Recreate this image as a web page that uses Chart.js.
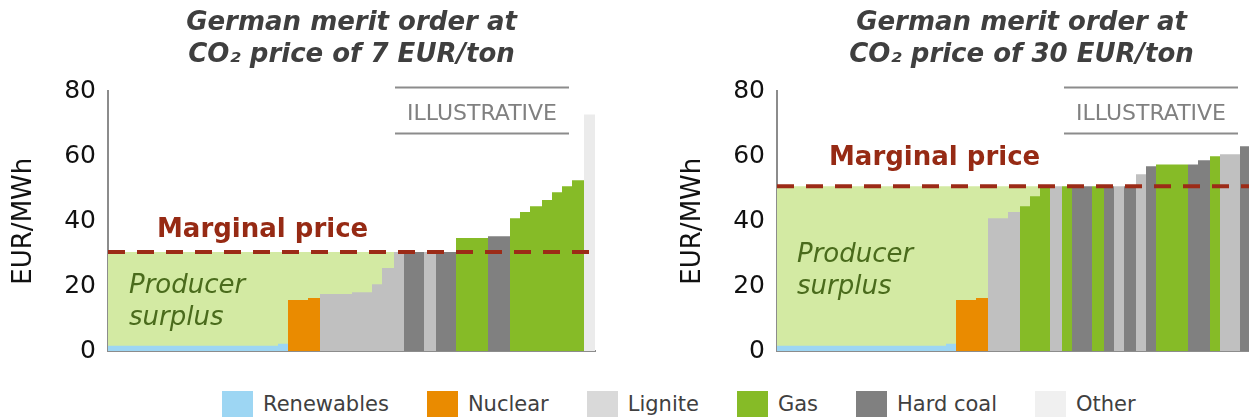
<!DOCTYPE html>
<html><head><meta charset="utf-8">
<script src="https://cdn.jsdelivr.net/npm/chart.js@4.4.0/dist/chart.umd.min.js"></script>
<style>
html,body{margin:0;padding:0;width:1249px;height:417px;overflow:hidden;background:#fff;}
#c1{position:absolute;left:0;top:0;}
#c2{position:absolute;left:669px;top:0;}
#legend{position:absolute;left:222px;top:391px;display:flex;font-family:'DejaVu Sans',sans-serif;font-size:21px;color:#404040;white-space:nowrap;}
.item{display:flex;align-items:flex-start;margin-right:38px;}
.sw{width:31px;height:27px;margin-right:10px;}
.lbl{line-height:27px;}
</style></head><body>
<canvas id="c1" width="660" height="385"></canvas>
<canvas id="c2" width="660" height="385"></canvas>
<div id="legend"></div>
<script>
// ---- data (capacity in GW, price in EUR/MWh) ----
const legendFuels = ['Renewables', 'Nuclear', 'Lignite', 'Gas', 'Hard coal', 'Other'];

const leftTitle = ['German merit order at', 'CO\u2082 price of 7 EUR/ton'];
const leftFuels = ['Renewables','Renewables','Nuclear','Nuclear','Lignite','Lignite','Lignite','Lignite','Lignite','Hard coal','Lignite','Hard coal','Gas','Hard coal','Gas','Gas','Gas','Gas','Gas','Gas','Gas','Other'];
const leftCapacity = [34, 2, 4, 2.4, 6.4, 4, 2, 2.4, 2, 4, 2.4, 4, 6.4, 4.4, 2, 2, 2.4, 2, 2, 2, 2.4, 2.2];
const leftPrice = [1.6, 2.2, 15.7, 16.3, 17.6, 18.1, 20.6, 25.6, 30.5, 30.5, 30.5, 30.5, 34.8, 35.4, 40.9, 42.8, 44.6, 46.5, 48.9, 50.8, 52.6, 72.9];
const leftMarginal = 30.5;

const rightTitle = ['German merit order at', 'CO\u2082 price of 30 EUR/ton'];
const rightFuels = ['Renewables','Renewables','Nuclear','Nuclear','Lignite','Lignite','Gas','Gas','Gas','Lignite','Gas','Hard coal','Gas','Hard coal','Lignite','Hard coal','Lignite','Hard coal','Gas','Hard coal','Hard coal','Gas','Lignite','Hard coal','Other'];
const rightCapacity = [33.8, 2, 4, 2.4, 4, 2.4, 2, 2, 2, 2.4, 2, 4, 2.4, 2, 2, 2.4, 2, 2, 6.4, 2, 2.4, 2, 4, 3.2, 2];
const rightPrice = [1.6, 2.2, 15.7, 16.3, 40.9, 42.8, 44.6, 47.7, 50.8, 50.8, 50.8, 50.8, 50.8, 50.8, 50.8, 50.8, 54.5, 56.9, 57.5, 57.5, 58.8, 60.0, 60.6, 63.1, 73.0];
const rightMarginal = 50.8;

const yTicks = [0, 20, 40, 60, 80];
const yTitle = 'EUR/MWh';
const marginalLabel = 'Marginal price';
const surplusLabel = ['Producer', 'surplus'];
const stampLabel = 'ILLUSTRATIVE';

// ---- styles ----
const barColors = {'Renewables':'#9dd6f3','Nuclear':'#ea8b00','Lignite':'#c0c0c0','Gas':'#86bb27','Hard coal':'#808080','Other':'#ebebeb'};
const swatchColors = {'Renewables':'#9dd6f3','Nuclear':'#ea8b00','Lignite':'#d9d9d9','Gas':'#86bb27','Hard coal':'#808080','Other':'#f0f0f0'};
const FONT = "'DejaVu Sans', Verdana, sans-serif";

function buildDatasets(fuels, caps, prices, mp) {
  const ds = [];
  let x = 0, cut = null;
  for (let i = 0; i < fuels.length; i++) {
    const x0 = x, x1 = x + caps[i];
    ds.push({label: fuels[i], data: [{x: x0, y: prices[i]}, {x: x1, y: prices[i]}],
      fill: 'origin', backgroundColor: barColors[fuels[i]], borderWidth: 0, pointRadius: 0, order: 1});
    if (cut === null && prices[i] >= mp) cut = x1;
    x = x1;
  }
  ds.push({label: 'surplus', data: [{x: 0, y: mp}, {x: cut, y: mp}], fill: 'origin',
    backgroundColor: '#d3eaa3', borderWidth: 0, pointRadius: 0, order: 2});
  ds.push({label: 'marginal', data: [{x: 0, y: mp}, {x: x, y: mp}], fill: false,
    borderColor: '#9c2b17', borderWidth: 4, borderDash: [17, 12], pointRadius: 0, order: 0});
  return {ds, total: x};
}

const annot = {
  id: 'annot',
  afterDraw(chart, args, o) {
    const {ctx, chartArea: a, scales: {y}} = chart;
    const yl = y.getPixelForValue(o.mp);
    ctx.save();
    ctx.textBaseline = 'alphabetic';
    ctx.textAlign = 'left';
    ctx.font = 'bold 26px ' + FONT;
    ctx.fillStyle = '#962a14';
    ctx.fillText(marginalLabel, a.left + o.mpX, yl - o.mpDy);
    ctx.font = 'italic 26px ' + FONT;
    ctx.fillStyle = '#4a6b1c';
    ctx.fillText(surplusLabel[0], a.left + o.psX, a.top + o.psY);
    ctx.fillText(surplusLabel[1], a.left + o.psX, a.top + o.psY + 32);
    ctx.strokeStyle = '#8c8c8c';
    ctx.lineWidth = 2;
    ctx.beginPath();
    ctx.moveTo(a.left + 287, a.top - 4); ctx.lineTo(a.left + 461, a.top - 4);
    ctx.moveTo(a.left + 287, a.top + 42); ctx.lineTo(a.left + 461, a.top + 42);
    ctx.stroke();
    ctx.font = '22px ' + FONT;
    ctx.fillStyle = '#808080';
    ctx.textAlign = 'center';
    ctx.fillText(stampLabel, a.left + 374, a.top + 29);
    ctx.restore();
  }
};

function makeChart(id, title, fuels, caps, prices, mp, padRight, o) {
  const {ds, total} = buildDatasets(fuels, caps, prices, mp);
  return new Chart(document.getElementById(id), {
    type: 'line',
    data: {datasets: ds},
    plugins: [annot],
    options: {
      responsive: false, animation: false, devicePixelRatio: 1, events: [],
      parsing: true,
      layout: {padding: {left: 0, right: padRight, top: 0, bottom: 34}},
      plugins: {
        legend: {display: false}, tooltip: {enabled: false},
        title: {display: true, text: title, fullSize: false, color: '#3f3f3f',
          font: {family: FONT, size: 26, weight: 'bold', style: 'italic', lineHeight: 1.2},
          padding: {top: 8, bottom: 21}},
        annot: Object.assign({mp}, o)
      },
      scales: {
        x: {type: 'linear', min: 0, max: total, grid: {display: false, drawTicks: false},
          ticks: {display: false}, border: {display: true, color: '#8c8c8c', width: 2}},
        y: {type: 'linear', min: 0, max: 80,
          afterBuildTicks: s => { s.ticks = yTicks.map(v => ({value: v})); },
          afterFit: s => { s.width = 108; },
          grid: {display: false, drawTicks: false},
          border: {display: true, color: '#8c8c8c', width: 2},
          ticks: {color: '#111', padding: 12, font: {family: FONT, size: 25}},
          title: {display: true, text: yTitle, color: '#111', padding: {top: 9, bottom: 0},
            font: {family: FONT, size: 26}}}
      }
    }
  });
}

makeChart('c1', leftTitle, leftFuels, leftCapacity, leftPrice, leftMarginal, 65,
  {mpX: 49, mpDy: 15, psX: 21, psY: 202});
makeChart('c2', rightTitle, rightFuels, rightCapacity, rightPrice, rightMarginal, 63,
  {mpX: 52, mpDy: 21, psX: 20, psY: 171});

const lg = document.getElementById('legend');
legendFuels.forEach(f => {
  const it = document.createElement('div'); it.className = 'item';
  const sw = document.createElement('div'); sw.className = 'sw'; sw.style.background = swatchColors[f];
  const lb = document.createElement('div'); lb.className = 'lbl'; lb.textContent = f;
  it.appendChild(sw); it.appendChild(lb); lg.appendChild(it);
});
</script>
</body></html>
